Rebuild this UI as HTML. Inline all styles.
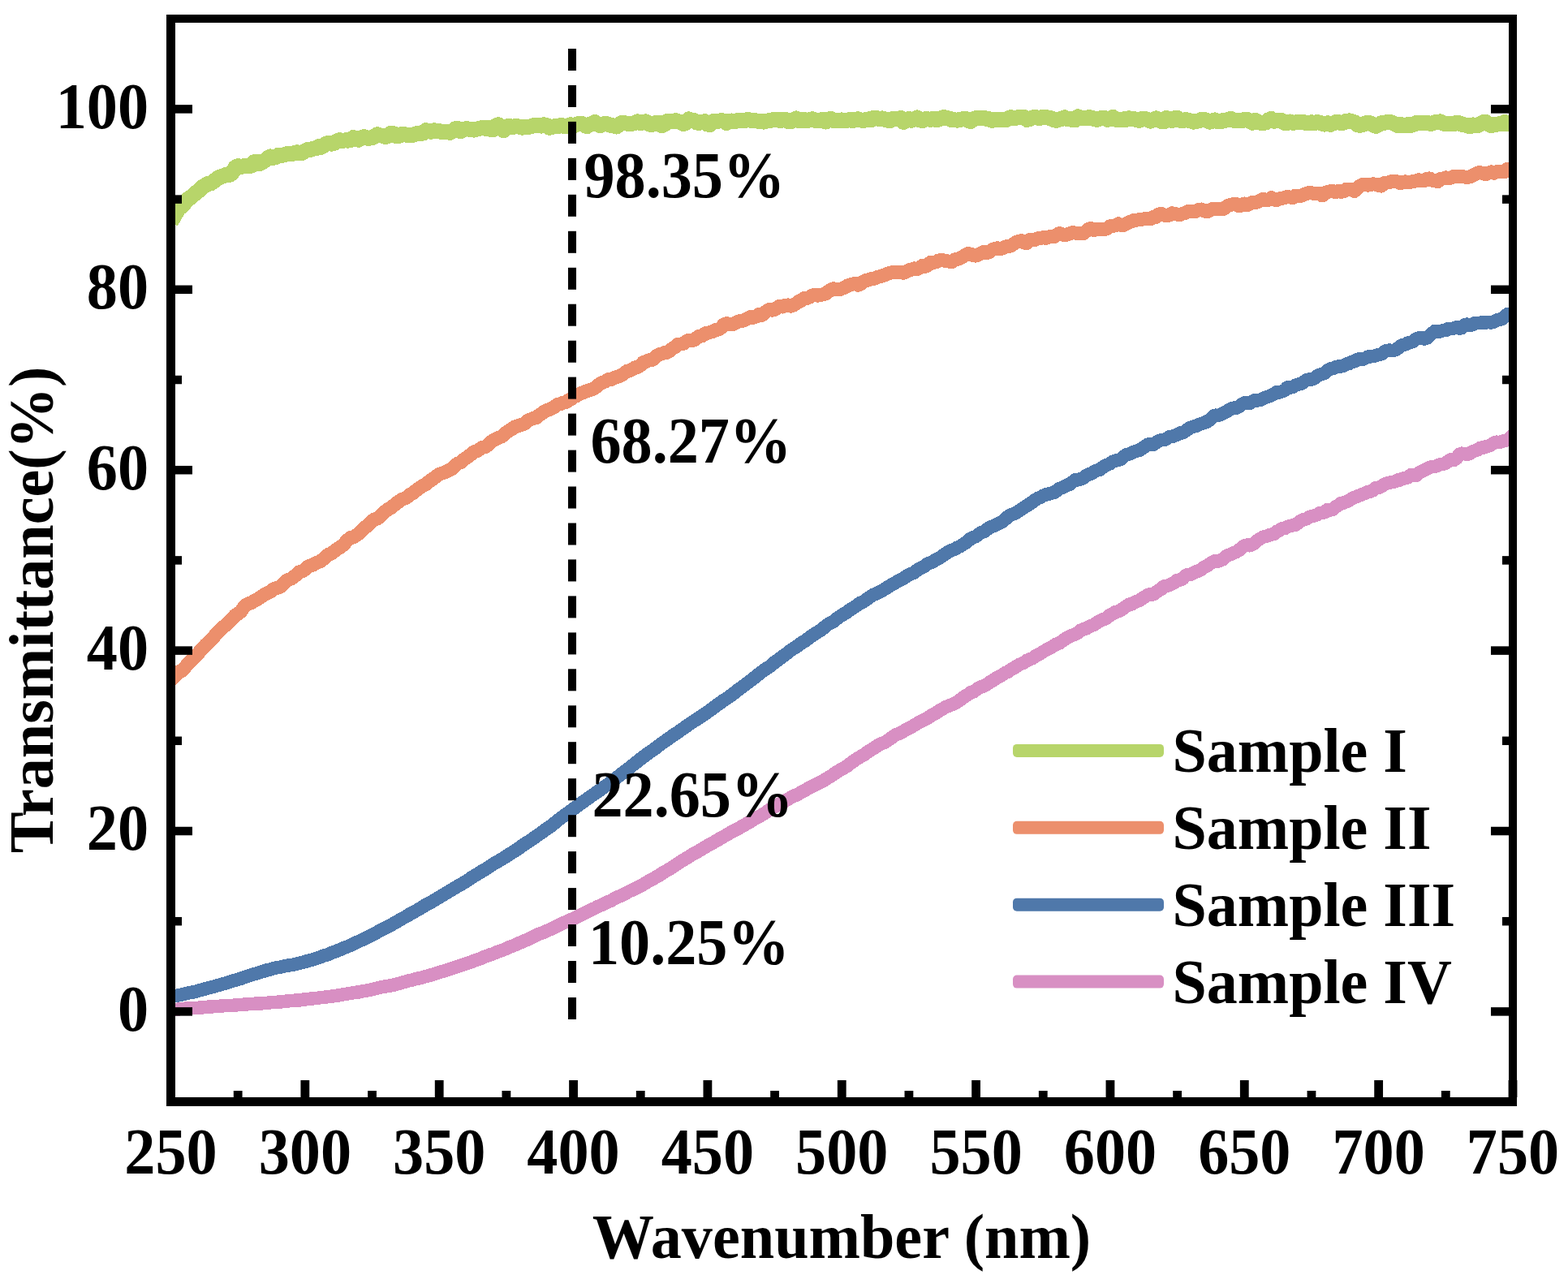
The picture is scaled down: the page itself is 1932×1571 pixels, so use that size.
<!DOCTYPE html>
<html><head><meta charset="utf-8"><style>
html,body{margin:0;padding:0;background:#fff;overflow:hidden;}
svg{display:block;}
text{font-family:"Liberation Serif","Times New Roman",serif;font-weight:bold;font-size:78px;fill:#000;}
</style></head><body>
<svg width="1932" height="1571" viewBox="0 0 1932 1571">
<rect width="1932" height="1571" fill="#fff"/>
<defs><clipPath id="pa"><rect x="210" y="23" width="1654" height="1335"/></clipPath></defs>
<g fill="none" stroke-width="16.5" stroke-linejoin="round" stroke-linecap="butt" clip-path="url(#pa)" shape-rendering="crispEdges">
<polyline stroke-width="19" points="210.5,272.9 213.8,268.2 217.1,262.2 220.4,256.2 223.7,254.4 227.0,250.7 230.3,246.2 233.6,244.1 237.0,241.5 240.3,238.5 243.6,235.8 246.9,233.5 250.2,230.0 253.5,228.0 256.8,226.4 260.1,225.7 263.4,223.5 266.7,220.8 270.0,218.4 273.3,217.4 276.6,216.2 279.9,215.0 283.3,215.3 286.6,212.3 289.9,206.2 293.2,204.7 296.5,205.5 299.8,204.8 303.1,204.3 306.4,204.2 309.7,204.2 313.0,199.7 316.3,199.4 319.6,201.7 322.9,200.0 326.2,198.0 329.6,195.1 332.9,193.0 336.2,194.4 339.5,193.8 342.8,191.4 346.1,191.1 349.4,191.1 352.7,189.8 356.0,189.9 359.3,189.8 362.6,188.8 365.9,187.7 369.2,188.4 372.5,188.3 375.8,186.2 379.2,184.2 382.5,184.4 385.8,183.2 389.1,182.8 392.4,180.7 395.7,181.3 399.0,179.4 402.3,176.8 405.6,176.9 408.9,177.1 412.2,176.2 415.5,173.7 418.8,172.7 422.1,173.5 425.5,172.8 428.8,173.1 432.1,172.4 435.4,169.6 438.7,171.1 442.0,172.2 445.3,169.8 448.6,168.7 451.9,170.1 455.2,170.1 458.5,169.9 461.8,167.6 465.1,165.8 468.4,166.8 471.8,167.4 475.1,168.5 478.4,167.1 481.7,164.2 485.0,164.7 488.3,167.6 491.6,167.4 494.9,165.4 498.2,165.6 501.5,166.3 504.8,166.5 508.1,166.5 511.4,165.4 514.7,164.2 518.1,164.2 521.4,164.1 524.7,160.7 528.0,161.9 531.3,162.2 534.6,160.8 537.9,161.9 541.2,161.7 544.5,162.7 547.8,162.1 551.1,162.8 554.4,163.3 557.7,161.5 561.0,158.7 564.3,158.5 567.7,161.8 571.0,160.1 574.3,158.6 577.6,159.1 580.9,159.4 584.2,160.1 587.5,159.2 590.8,158.3 594.1,157.6 597.4,158.1 600.7,157.2 604.0,159.2 607.3,159.6 610.6,155.0 614.0,153.9 617.3,158.4 620.6,160.9 623.9,156.4 627.2,155.1 630.5,156.9 633.8,155.8 637.1,155.5 640.4,156.3 643.7,157.1 647.0,156.4 650.3,156.6 653.6,155.9 656.9,154.9 660.3,154.9 663.6,154.6 666.9,155.1 670.2,153.8 673.5,154.5 676.8,157.3 680.1,156.3 683.4,155.7 686.7,156.0 690.0,154.9 693.3,154.9 696.6,155.8 699.9,155.1 703.2,153.8 706.5,155.1 709.9,153.7 713.2,152.3 716.5,152.4 719.8,154.0 723.1,155.7 726.4,153.2 729.7,152.5 733.0,150.7 736.3,153.0 739.6,154.7 742.9,153.1 746.2,152.3 749.5,153.4 752.8,154.4 756.2,155.1 759.5,156.0 762.8,153.5 766.1,151.6 769.4,151.8 772.7,152.1 776.0,152.2 779.3,152.1 782.6,151.4 785.9,149.9 789.2,151.8 792.5,150.6 795.8,149.9 799.1,152.4 802.5,153.8 805.8,152.7 809.1,151.2 812.4,151.2 815.7,154.7 819.0,153.1 822.3,149.3 825.6,149.2 828.9,149.8 832.2,148.6 835.5,149.9 838.8,150.6 842.1,152.5 845.4,151.1 848.8,147.0 852.1,148.3 855.4,148.5 858.7,151.1 862.0,151.2 865.3,150.5 868.6,149.7 871.9,153.2 875.2,153.3 878.5,149.6 881.8,149.6 885.1,149.1 888.4,148.9 891.7,148.9 895.0,151.4 898.4,149.1 901.7,149.0 905.0,149.9 908.3,148.8 911.6,148.7 914.9,148.6 918.2,148.5 921.5,147.5 924.8,148.2 928.1,148.8 931.4,148.9 934.7,149.2 938.0,149.3 941.3,150.1 944.7,149.1 948.0,148.6 951.3,147.9 954.6,147.5 957.9,147.3 961.2,148.7 964.5,147.3 967.8,147.6 971.1,149.4 974.4,149.6 977.7,147.6 981.0,146.0 984.3,148.7 987.6,148.8 991.0,147.3 994.3,148.9 997.6,147.6 1000.9,146.8 1004.2,148.2 1007.5,148.6 1010.8,148.1 1014.1,147.3 1017.4,150.1 1020.7,147.8 1024.0,146.3 1027.3,148.5 1030.6,148.4 1033.9,148.5 1037.2,148.0 1040.6,148.2 1043.9,148.3 1047.2,147.6 1050.5,148.6 1053.8,147.4 1057.1,146.7 1060.4,148.0 1063.7,148.6 1067.0,147.5 1070.3,146.9 1073.6,147.6 1076.9,145.2 1080.2,145.6 1083.5,146.7 1086.9,145.9 1090.2,147.1 1093.5,148.1 1096.8,148.5 1100.1,146.5 1103.4,146.4 1106.7,146.6 1110.0,145.6 1113.3,150.5 1116.6,147.6 1119.9,146.5 1123.2,148.3 1126.5,146.9 1129.8,145.0 1133.2,147.8 1136.5,148.6 1139.8,146.8 1143.1,146.8 1146.4,147.3 1149.7,146.2 1153.0,147.4 1156.3,147.2 1159.6,145.5 1162.9,144.5 1166.2,145.5 1169.5,146.0 1172.8,148.0 1176.1,147.9 1179.5,148.1 1182.8,147.5 1186.1,146.8 1189.4,146.1 1192.7,148.2 1196.0,149.5 1199.3,146.8 1202.6,145.6 1205.9,145.9 1209.2,145.5 1212.5,145.4 1215.8,146.3 1219.1,146.9 1222.4,148.4 1225.7,147.3 1229.1,147.4 1232.4,147.8 1235.7,147.1 1239.0,148.0 1242.3,145.8 1245.6,144.7 1248.9,145.4 1252.2,145.3 1255.5,144.2 1258.8,144.8 1262.1,144.5 1265.4,147.5 1268.7,146.5 1272.0,144.9 1275.4,144.5 1278.7,145.2 1282.0,145.2 1285.3,144.2 1288.6,144.3 1291.9,145.3 1295.2,145.8 1298.5,147.9 1301.8,148.3 1305.1,147.0 1308.4,146.3 1311.7,144.8 1315.0,146.5 1318.3,146.7 1321.7,147.7 1325.0,147.7 1328.3,143.9 1331.6,145.0 1334.9,145.1 1338.2,146.0 1341.5,144.5 1344.8,145.1 1348.1,146.7 1351.4,147.4 1354.7,146.4 1358.0,145.0 1361.3,145.7 1364.6,147.4 1367.9,146.1 1371.3,144.5 1374.6,147.1 1377.9,148.0 1381.2,147.9 1384.5,146.9 1387.8,147.2 1391.1,145.8 1394.4,146.8 1397.7,146.6 1401.0,148.0 1404.3,148.2 1407.6,146.3 1410.9,146.5 1414.2,147.5 1417.6,149.1 1420.9,148.0 1424.2,145.9 1427.5,147.6 1430.8,149.5 1434.1,149.9 1437.4,145.6 1440.7,146.4 1444.0,148.4 1447.3,145.6 1450.6,145.4 1453.9,148.2 1457.2,149.0 1460.5,147.5 1463.9,148.3 1467.2,149.0 1470.5,150.1 1473.8,149.1 1477.1,149.0 1480.4,147.1 1483.7,147.4 1487.0,148.5 1490.3,150.1 1493.6,149.3 1496.9,147.9 1500.2,149.4 1503.5,149.9 1506.8,148.7 1510.2,148.1 1513.5,147.5 1516.8,146.3 1520.1,148.4 1523.4,148.9 1526.7,148.2 1530.0,149.0 1533.3,147.2 1536.6,147.5 1539.9,149.3 1543.2,151.2 1546.5,148.3 1549.8,150.0 1553.1,151.3 1556.4,151.2 1559.8,151.1 1563.1,147.7 1566.4,146.4 1569.7,149.3 1573.0,148.4 1576.3,148.4 1579.6,148.7 1582.9,151.5 1586.2,151.6 1589.5,150.0 1592.8,151.3 1596.1,150.9 1599.4,150.3 1602.7,150.4 1606.1,150.6 1609.4,151.5 1612.7,151.2 1616.0,150.8 1619.3,151.7 1622.6,150.5 1625.9,151.2 1629.2,152.4 1632.5,153.1 1635.8,151.8 1639.1,153.4 1642.4,152.1 1645.7,150.6 1649.0,150.4 1652.4,151.8 1655.7,151.1 1659.0,149.2 1662.3,148.9 1665.6,149.7 1668.9,150.7 1672.2,153.4 1675.5,154.4 1678.8,153.6 1682.1,152.3 1685.4,151.1 1688.7,151.9 1692.0,153.9 1695.3,155.3 1698.6,153.8 1702.0,151.7 1705.3,151.4 1708.6,150.6 1711.9,150.2 1715.2,151.2 1718.5,152.8 1721.8,154.5 1725.1,153.3 1728.4,154.6 1731.7,155.0 1735.0,153.5 1738.3,154.5 1741.6,153.4 1744.9,151.6 1748.3,152.0 1751.6,151.8 1754.9,151.4 1758.2,151.5 1761.5,152.2 1764.8,152.1 1768.1,150.8 1771.4,150.7 1774.7,149.8 1778.0,151.9 1781.3,153.0 1784.6,152.6 1787.9,152.8 1791.2,152.7 1794.6,151.3 1797.9,151.7 1801.2,153.2 1804.5,154.0 1807.8,154.5 1811.1,155.9 1814.4,153.9 1817.7,154.4 1821.0,154.7 1824.3,152.5 1827.6,150.7 1830.9,150.6 1834.2,152.9 1837.5,154.6 1840.9,153.9 1844.2,153.1 1847.5,152.8 1850.8,152.7 1854.1,150.5 1857.4,152.7 1860.7,152.9 1864.0,152.7 1864.0,156.1" stroke="#B7D56A"/>
<polyline stroke-width="17" points="210.5,838.1 213.8,834.7 217.1,831.2 220.4,827.7 223.7,826.6 227.0,823.5 230.3,819.4 233.6,816.3 237.0,812.6 240.3,808.9 243.6,805.9 246.9,801.9 250.2,798.0 253.5,794.5 256.8,791.6 260.1,788.2 263.4,784.8 266.7,780.9 270.0,777.5 273.3,774.0 276.6,771.5 279.9,768.2 283.3,765.0 286.6,761.6 289.9,758.1 293.2,756.3 296.5,753.9 299.8,748.9 303.1,745.6 306.4,743.5 309.7,742.6 313.0,740.6 316.3,738.9 319.6,736.8 322.9,734.5 326.2,732.5 329.6,730.7 332.9,729.2 336.2,726.4 339.5,724.8 342.8,723.9 346.1,722.5 349.4,718.8 352.7,715.8 356.0,714.2 359.3,712.7 362.6,710.2 365.9,708.0 369.2,704.5 372.5,703.7 375.8,701.6 379.2,698.2 382.5,697.0 385.8,696.0 389.1,693.7 392.4,692.6 395.7,691.2 399.0,688.1 402.3,685.1 405.6,682.9 408.9,681.5 412.2,679.1 415.5,676.6 418.8,674.5 422.1,672.2 425.5,668.5 428.8,665.1 432.1,662.5 435.4,662.0 438.7,659.8 442.0,657.5 445.3,653.8 448.6,650.5 451.9,648.4 455.2,645.3 458.5,641.7 461.8,639.7 465.1,638.9 468.4,635.9 471.8,633.0 475.1,629.9 478.4,627.4 481.7,625.9 485.0,623.0 488.3,620.1 491.6,618.0 494.9,615.6 498.2,614.2 501.5,612.5 504.8,609.7 508.1,608.2 511.4,605.2 514.7,602.9 518.1,600.3 521.4,598.5 524.7,596.6 528.0,594.0 531.3,591.5 534.6,589.3 537.9,586.8 541.2,584.3 544.5,583.2 547.8,582.0 551.1,580.4 554.4,578.6 557.7,577.1 561.0,573.7 564.3,570.9 567.7,569.7 571.0,566.4 574.3,564.5 577.6,561.8 580.9,559.5 584.2,556.7 587.5,556.0 590.8,553.6 594.1,551.3 597.4,550.9 600.7,548.6 604.0,545.5 607.3,542.8 610.6,541.2 614.0,539.5 617.3,538.2 620.6,536.2 623.9,533.0 627.2,530.8 630.5,528.7 633.8,526.3 637.1,525.0 640.4,524.0 643.7,523.1 647.0,521.5 650.3,518.4 653.6,516.9 656.9,515.4 660.3,514.9 663.6,512.2 666.9,510.0 670.2,507.2 673.5,505.5 676.8,504.5 680.1,502.9 683.4,501.1 686.7,498.6 690.0,497.9 693.3,496.3 696.6,495.9 699.9,493.7 703.2,492.0 706.5,489.2 709.9,488.0 713.2,485.9 716.5,484.4 719.8,483.3 723.1,481.7 726.4,480.7 729.7,479.7 733.0,478.0 736.3,475.3 739.6,472.5 742.9,471.2 746.2,469.8 749.5,467.5 752.8,467.6 756.2,466.0 759.5,464.5 762.8,463.8 766.1,462.2 769.4,459.7 772.7,457.3 776.0,456.5 779.3,454.9 782.6,452.7 785.9,452.3 789.2,450.0 792.5,446.5 795.8,445.5 799.1,443.9 802.5,443.9 805.8,442.1 809.1,438.5 812.4,436.7 815.7,435.8 819.0,434.6 822.3,434.1 825.6,431.9 828.9,429.2 832.2,427.2 835.5,424.1 838.8,424.0 842.1,423.4 845.4,420.9 848.8,419.1 852.1,419.2 855.4,419.1 858.7,416.2 862.0,414.0 865.3,413.7 868.6,410.9 871.9,410.4 875.2,409.3 878.5,408.4 881.8,406.4 885.1,406.1 888.4,403.8 891.7,400.1 895.0,398.6 898.4,399.3 901.7,400.0 905.0,398.3 908.3,396.7 911.6,395.6 914.9,395.3 918.2,394.1 921.5,392.3 924.8,390.6 928.1,391.2 931.4,390.1 934.7,387.5 938.0,388.6 941.3,386.6 944.7,383.3 948.0,381.2 951.3,382.2 954.6,381.5 957.9,378.8 961.2,377.1 964.5,378.0 967.8,376.3 971.1,375.9 974.4,377.1 977.7,376.0 981.0,374.0 984.3,371.5 987.6,370.1 991.0,367.3 994.3,367.4 997.6,366.1 1000.9,364.1 1004.2,363.4 1007.5,364.2 1010.8,363.5 1014.1,362.7 1017.4,361.8 1020.7,359.2 1024.0,357.0 1027.3,355.8 1030.6,356.5 1033.9,356.9 1037.2,355.6 1040.6,354.5 1043.9,352.2 1047.2,351.2 1050.5,350.0 1053.8,349.5 1057.1,351.3 1060.4,349.9 1063.7,346.9 1067.0,345.6 1070.3,344.9 1073.6,343.5 1076.9,343.4 1080.2,341.7 1083.5,340.9 1086.9,339.8 1090.2,339.0 1093.5,337.3 1096.8,336.1 1100.1,335.8 1103.4,335.6 1106.7,335.4 1110.0,335.6 1113.3,336.2 1116.6,334.7 1119.9,332.8 1123.2,332.2 1126.5,330.9 1129.8,331.6 1133.2,329.9 1136.5,327.4 1139.8,328.3 1143.1,327.0 1146.4,323.3 1149.7,323.3 1153.0,323.0 1156.3,321.0 1159.6,320.7 1162.9,320.9 1166.2,321.7 1169.5,322.1 1172.8,322.7 1176.1,320.0 1179.5,319.5 1182.8,318.1 1186.1,316.7 1189.4,314.1 1192.7,312.4 1196.0,313.1 1199.3,314.8 1202.6,315.1 1205.9,313.5 1209.2,311.7 1212.5,310.2 1215.8,311.5 1219.1,310.7 1222.4,307.8 1225.7,306.5 1229.1,305.7 1232.4,306.9 1235.7,305.6 1239.0,304.0 1242.3,303.6 1245.6,302.7 1248.9,300.6 1252.2,298.5 1255.5,297.2 1258.8,296.7 1262.1,299.0 1265.4,299.6 1268.7,295.7 1272.0,295.7 1275.4,295.5 1278.7,293.8 1282.0,293.5 1285.3,292.7 1288.6,293.5 1291.9,292.0 1295.2,291.8 1298.5,291.8 1301.8,289.6 1305.1,287.6 1308.4,288.6 1311.7,289.7 1315.0,288.9 1318.3,287.9 1321.7,286.5 1325.0,287.1 1328.3,287.5 1331.6,287.1 1334.9,287.6 1338.2,284.9 1341.5,282.1 1344.8,281.6 1348.1,283.5 1351.4,282.8 1354.7,282.7 1358.0,282.2 1361.3,282.5 1364.6,281.1 1367.9,278.6 1371.3,278.3 1374.6,277.9 1377.9,275.8 1381.2,277.3 1384.5,277.4 1387.8,275.8 1391.1,273.9 1394.4,272.8 1397.7,271.1 1401.0,271.1 1404.3,270.5 1407.6,270.2 1410.9,269.5 1414.2,270.0 1417.6,269.9 1420.9,267.5 1424.2,267.5 1427.5,264.2 1430.8,263.5 1434.1,265.1 1437.4,265.8 1440.7,265.0 1444.0,262.7 1447.3,263.4 1450.6,264.2 1453.9,264.7 1457.2,263.2 1460.5,262.3 1463.9,260.5 1467.2,260.3 1470.5,260.3 1473.8,260.4 1477.1,258.4 1480.4,258.0 1483.7,259.8 1487.0,260.9 1490.3,259.1 1493.6,257.7 1496.9,257.0 1500.2,257.8 1503.5,257.7 1506.8,257.9 1510.2,255.6 1513.5,253.1 1516.8,252.4 1520.1,251.4 1523.4,251.5 1526.7,253.9 1530.0,253.0 1533.3,251.0 1536.6,252.9 1539.9,251.2 1543.2,249.1 1546.5,249.6 1549.8,248.8 1553.1,246.7 1556.4,245.3 1559.8,246.9 1563.1,246.4 1566.4,243.7 1569.7,246.0 1573.0,246.5 1576.3,244.9 1579.6,244.5 1582.9,243.5 1586.2,242.4 1589.5,243.0 1592.8,243.8 1596.1,241.1 1599.4,241.6 1602.7,241.4 1606.1,239.8 1609.4,238.9 1612.7,237.5 1616.0,237.7 1619.3,238.8 1622.6,238.6 1625.9,238.4 1629.2,241.0 1632.5,237.8 1635.8,236.5 1639.1,235.8 1642.4,235.7 1645.7,236.7 1649.0,235.4 1652.4,236.5 1655.7,235.6 1659.0,233.1 1662.3,233.7 1665.6,233.5 1668.9,235.4 1672.2,232.0 1675.5,229.0 1678.8,227.4 1682.1,227.6 1685.4,228.2 1688.7,227.4 1692.0,226.8 1695.3,227.2 1698.6,228.4 1702.0,229.1 1705.3,225.6 1708.6,225.2 1711.9,224.5 1715.2,223.2 1718.5,223.1 1721.8,224.1 1725.1,225.7 1728.4,224.6 1731.7,223.8 1735.0,224.7 1738.3,224.2 1741.6,223.3 1744.9,222.9 1748.3,221.8 1751.6,222.9 1754.9,222.5 1758.2,220.5 1761.5,219.9 1764.8,222.3 1768.1,222.6 1771.4,223.6 1774.7,220.6 1778.0,220.0 1781.3,218.9 1784.6,219.2 1787.9,219.2 1791.2,217.2 1794.6,217.2 1797.9,217.5 1801.2,217.5 1804.5,218.0 1807.8,218.5 1811.1,217.8 1814.4,216.3 1817.7,214.5 1821.0,212.9 1824.3,212.9 1827.6,213.7 1830.9,214.7 1834.2,213.1 1837.5,211.9 1840.9,213.2 1844.2,211.7 1847.5,211.1 1850.8,211.9 1854.1,211.5 1857.4,208.1 1860.7,208.8 1864.0,210.8 1864.0,210.8" stroke="#EC8F6C"/>
<polyline points="210.5,1228.6 213.8,1227.5 217.1,1226.9 220.4,1226.2 223.7,1225.5 227.0,1224.7 230.3,1223.8 233.6,1223.1 237.0,1222.6 240.3,1222.1 243.6,1221.1 246.9,1220.0 250.2,1219.2 253.5,1218.2 256.8,1217.3 260.1,1216.5 263.4,1215.7 266.7,1214.7 270.0,1213.9 273.3,1212.8 276.6,1211.8 279.9,1211.0 283.3,1209.9 286.6,1208.7 289.9,1207.7 293.2,1206.8 296.5,1205.9 299.8,1204.6 303.1,1203.5 306.4,1202.5 309.7,1201.2 313.0,1200.3 316.3,1199.4 319.6,1198.4 322.9,1197.3 326.2,1196.3 329.6,1195.1 332.9,1194.5 336.2,1193.5 339.5,1192.6 342.8,1192.1 346.1,1191.5 349.4,1190.7 352.7,1190.0 356.0,1189.4 359.3,1188.9 362.6,1188.4 365.9,1187.6 369.2,1186.8 372.5,1186.0 375.8,1185.0 379.2,1184.0 382.5,1183.2 385.8,1182.3 389.1,1181.1 392.4,1180.0 395.7,1178.9 399.0,1177.5 402.3,1176.7 405.6,1175.5 408.9,1174.0 412.2,1172.8 415.5,1171.5 418.8,1170.2 422.1,1168.6 425.5,1167.3 428.8,1166.1 432.1,1164.7 435.4,1162.8 438.7,1161.4 442.0,1160.0 445.3,1158.4 448.6,1156.9 451.9,1155.1 455.2,1153.5 458.5,1151.8 461.8,1150.3 465.1,1148.5 468.4,1146.6 471.8,1144.8 475.1,1143.4 478.4,1141.7 481.7,1139.8 485.0,1138.0 488.3,1136.1 491.6,1134.1 494.9,1132.1 498.2,1130.4 501.5,1128.7 504.8,1126.5 508.1,1124.7 511.4,1122.9 514.7,1121.1 518.1,1119.1 521.4,1117.0 524.7,1115.0 528.0,1113.3 531.3,1111.6 534.6,1109.6 537.9,1107.5 541.2,1105.5 544.5,1103.6 547.8,1101.6 551.1,1099.7 554.4,1097.6 557.7,1095.7 561.0,1093.7 564.3,1091.8 567.7,1089.9 571.0,1088.0 574.3,1086.0 577.6,1083.8 580.9,1081.4 584.2,1079.4 587.5,1077.5 590.8,1075.5 594.1,1073.2 597.4,1071.5 600.7,1069.5 604.0,1067.1 607.3,1065.0 610.6,1063.0 614.0,1061.1 617.3,1059.2 620.6,1057.2 623.9,1055.0 627.2,1052.8 630.5,1050.8 633.8,1048.8 637.1,1046.6 640.4,1044.4 643.7,1041.9 647.0,1039.7 650.3,1037.5 653.6,1035.6 656.9,1033.2 660.3,1030.8 663.6,1028.4 666.9,1026.2 670.2,1023.7 673.5,1021.3 676.8,1019.1 680.1,1016.9 683.4,1014.1 686.7,1011.4 690.0,1008.7 693.3,1006.3 696.6,1004.0 699.9,1001.6 703.2,999.1 706.5,996.7 709.9,994.3 713.2,991.8 716.5,989.3 719.8,987.1 723.1,984.8 726.4,982.4 729.7,980.1 733.0,977.8 736.3,975.5 739.6,973.3 742.9,970.8 746.2,968.4 749.5,966.1 752.8,963.7 756.2,961.2 759.5,958.3 762.8,955.9 766.1,953.3 769.4,950.8 772.7,948.3 776.0,945.8 779.3,943.1 782.6,940.5 785.9,938.0 789.2,935.2 792.5,932.7 795.8,930.3 799.1,927.8 802.5,925.6 805.8,923.2 809.1,920.8 812.4,918.2 815.7,915.7 819.0,913.5 822.3,911.2 825.6,908.8 828.9,906.5 832.2,904.3 835.5,902.1 838.8,899.7 842.1,897.5 845.4,895.1 848.8,892.7 852.1,890.5 855.4,888.2 858.7,886.2 862.0,884.1 865.3,881.7 868.6,879.6 871.9,877.4 875.2,874.9 878.5,872.5 881.8,870.1 885.1,867.6 888.4,865.5 891.7,862.9 895.0,860.8 898.4,858.5 901.7,856.2 905.0,853.6 908.3,850.9 911.6,848.6 914.9,846.1 918.2,843.6 921.5,841.2 924.8,838.7 928.1,836.1 931.4,833.5 934.7,830.9 938.0,828.2 941.3,825.9 944.7,823.5 948.0,821.5 951.3,819.0 954.6,815.9 957.9,813.7 961.2,811.3 964.5,808.7 967.8,806.5 971.1,803.9 974.4,801.2 977.7,799.1 981.0,797.0 984.3,794.7 987.6,792.2 991.0,790.3 994.3,788.1 997.6,785.3 1000.9,783.0 1004.2,780.9 1007.5,778.8 1010.8,777.0 1014.1,774.3 1017.4,771.4 1020.7,769.1 1024.0,767.3 1027.3,765.6 1030.6,762.7 1033.9,760.3 1037.2,758.1 1040.6,756.0 1043.9,754.2 1047.2,751.5 1050.5,749.4 1053.8,747.3 1057.1,745.0 1060.4,742.7 1063.7,741.4 1067.0,739.0 1070.3,736.7 1073.6,734.3 1076.9,732.5 1080.2,731.2 1083.5,729.6 1086.9,727.7 1090.2,725.8 1093.5,723.7 1096.8,721.6 1100.1,719.9 1103.4,717.9 1106.7,715.8 1110.0,714.3 1113.3,712.6 1116.6,710.3 1119.9,708.2 1123.2,706.9 1126.5,705.4 1129.8,702.7 1133.2,700.6 1136.5,698.9 1139.8,697.2 1143.1,694.4 1146.4,693.3 1149.7,691.9 1153.0,689.5 1156.3,688.3 1159.6,686.1 1162.9,683.7 1166.2,681.7 1169.5,679.2 1172.8,677.9 1176.1,677.0 1179.5,674.6 1182.8,673.3 1186.1,671.0 1189.4,669.2 1192.7,666.6 1196.0,663.5 1199.3,662.2 1202.6,660.8 1205.9,658.2 1209.2,656.2 1212.5,655.0 1215.8,652.6 1219.1,650.0 1222.4,648.7 1225.7,647.6 1229.1,645.4 1232.4,644.1 1235.7,642.4 1239.0,639.4 1242.3,636.3 1245.6,634.2 1248.9,633.1 1252.2,631.8 1255.5,629.6 1258.8,627.4 1262.1,625.0 1265.4,623.1 1268.7,620.9 1272.0,618.6 1275.4,616.1 1278.7,614.1 1282.0,612.8 1285.3,610.8 1288.6,609.4 1291.9,608.7 1295.2,607.6 1298.5,607.0 1301.8,604.9 1305.1,602.2 1308.4,601.2 1311.7,599.5 1315.0,597.6 1318.3,596.6 1321.7,593.7 1325.0,591.3 1328.3,591.3 1331.6,590.1 1334.9,589.1 1338.2,586.2 1341.5,584.2 1344.8,583.7 1348.1,581.0 1351.4,579.8 1354.7,578.9 1358.0,576.4 1361.3,574.2 1364.6,572.7 1367.9,571.1 1371.3,568.6 1374.6,567.6 1377.9,566.7 1381.2,565.8 1384.5,562.5 1387.8,560.2 1391.1,559.6 1394.4,557.9 1397.7,556.7 1401.0,555.6 1404.3,554.6 1407.6,552.2 1410.9,550.1 1414.2,547.7 1417.6,547.5 1420.9,548.0 1424.2,545.5 1427.5,543.4 1430.8,542.1 1434.1,542.1 1437.4,540.5 1440.7,538.4 1444.0,538.0 1447.3,536.9 1450.6,535.4 1453.9,533.5 1457.2,533.3 1460.5,531.2 1463.9,528.7 1467.2,526.7 1470.5,525.7 1473.8,524.8 1477.1,523.0 1480.4,522.2 1483.7,520.8 1487.0,519.7 1490.3,517.6 1493.6,514.6 1496.9,511.7 1500.2,511.8 1503.5,511.3 1506.8,509.5 1510.2,507.9 1513.5,505.6 1516.8,503.8 1520.1,502.6 1523.4,502.9 1526.7,500.9 1530.0,498.4 1533.3,496.4 1536.6,496.5 1539.9,496.9 1543.2,494.8 1546.5,492.9 1549.8,493.4 1553.1,492.7 1556.4,491.0 1559.8,489.6 1563.1,488.6 1566.4,487.0 1569.7,485.3 1573.0,483.3 1576.3,483.5 1579.6,482.4 1582.9,481.1 1586.2,477.3 1589.5,477.5 1592.8,477.0 1596.1,474.7 1599.4,473.8 1602.7,472.9 1606.1,471.0 1609.4,468.5 1612.7,467.5 1616.0,467.5 1619.3,466.3 1622.6,463.6 1625.9,461.8 1629.2,460.8 1632.5,459.6 1635.8,456.2 1639.1,454.4 1642.4,454.2 1645.7,452.3 1649.0,451.5 1652.4,451.5 1655.7,450.5 1659.0,448.5 1662.3,448.0 1665.6,445.7 1668.9,445.5 1672.2,443.0 1675.5,442.3 1678.8,443.1 1682.1,441.5 1685.4,439.7 1688.7,439.3 1692.0,439.2 1695.3,437.9 1698.6,437.0 1702.0,436.4 1705.3,433.7 1708.6,432.1 1711.9,431.5 1715.2,432.1 1718.5,431.3 1721.8,429.7 1725.1,426.8 1728.4,425.1 1731.7,424.4 1735.0,422.4 1738.3,421.9 1741.6,420.4 1744.9,417.5 1748.3,416.4 1751.6,416.2 1754.9,417.6 1758.2,416.5 1761.5,413.3 1764.8,410.5 1768.1,407.8 1771.4,408.9 1774.7,408.4 1778.0,407.0 1781.3,407.1 1784.6,404.8 1787.9,404.9 1791.2,404.6 1794.6,403.2 1797.9,404.6 1801.2,404.1 1804.5,400.5 1807.8,399.6 1811.1,401.1 1814.4,400.0 1817.7,397.9 1821.0,397.9 1824.3,397.7 1827.6,397.4 1830.9,397.5 1834.2,397.1 1837.5,397.5 1840.9,396.4 1844.2,394.5 1847.5,393.8 1850.8,392.8 1854.1,390.2 1857.4,387.2 1860.7,387.3 1864.0,386.4 1864.0,387.3" stroke="#4F78AA"/>
<polyline points="210.5,1244.1 213.8,1244.0 217.1,1243.9 220.4,1243.5 223.7,1242.9 227.0,1242.8 230.3,1242.5 233.6,1242.3 237.0,1241.9 240.3,1241.9 243.6,1241.8 246.9,1241.6 250.2,1241.3 253.5,1241.0 256.8,1240.6 260.1,1240.6 263.4,1240.1 266.7,1240.1 270.0,1239.8 273.3,1239.4 276.6,1239.2 279.9,1239.0 283.3,1238.9 286.6,1238.8 289.9,1238.6 293.2,1238.1 296.5,1237.9 299.8,1237.7 303.1,1237.5 306.4,1237.1 309.7,1237.0 313.0,1236.8 316.3,1236.5 319.6,1236.5 322.9,1236.3 326.2,1236.1 329.6,1235.8 332.9,1235.3 336.2,1235.0 339.5,1234.8 342.8,1234.7 346.1,1234.4 349.4,1233.9 352.7,1233.6 356.0,1233.3 359.3,1233.0 362.6,1232.7 365.9,1232.5 369.2,1232.4 372.5,1231.8 375.8,1231.4 379.2,1231.1 382.5,1230.6 385.8,1230.3 389.1,1230.0 392.4,1229.6 395.7,1229.1 399.0,1228.9 402.3,1228.4 405.6,1227.9 408.9,1227.6 412.2,1227.2 415.5,1226.7 418.8,1226.1 422.1,1225.5 425.5,1225.0 428.8,1224.4 432.1,1224.0 435.4,1223.3 438.7,1222.7 442.0,1222.4 445.3,1221.7 448.6,1220.9 451.9,1220.6 455.2,1219.8 458.5,1219.2 461.8,1218.4 465.1,1217.6 468.4,1216.7 471.8,1216.0 475.1,1215.4 478.4,1214.9 481.7,1214.3 485.0,1213.7 488.3,1212.6 491.6,1211.8 494.9,1210.9 498.2,1210.0 501.5,1209.0 504.8,1208.1 508.1,1207.4 511.4,1206.5 514.7,1205.7 518.1,1204.9 521.4,1204.1 524.7,1203.1 528.0,1202.2 531.3,1201.3 534.6,1200.3 537.9,1199.2 541.2,1198.1 544.5,1197.2 547.8,1196.3 551.1,1195.2 554.4,1194.1 557.7,1193.0 561.0,1191.8 564.3,1190.7 567.7,1189.5 571.0,1188.6 574.3,1187.4 577.6,1186.2 580.9,1185.1 584.2,1183.8 587.5,1182.6 590.8,1181.5 594.1,1180.2 597.4,1178.8 600.7,1177.6 604.0,1176.3 607.3,1175.3 610.6,1173.9 614.0,1172.6 617.3,1171.5 620.6,1170.2 623.9,1168.7 627.2,1167.3 630.5,1166.0 633.8,1164.7 637.1,1163.1 640.4,1161.7 643.7,1160.4 647.0,1158.9 650.3,1157.5 653.6,1155.9 656.9,1154.3 660.3,1152.7 663.6,1151.1 666.9,1149.9 670.2,1148.6 673.5,1147.0 676.8,1145.7 680.1,1144.2 683.4,1142.5 686.7,1141.0 690.0,1139.4 693.3,1137.7 696.6,1136.3 699.9,1134.8 703.2,1133.3 706.5,1131.8 709.9,1130.1 713.2,1128.6 716.5,1126.9 719.8,1125.3 723.1,1123.8 726.4,1122.2 729.7,1120.6 733.0,1119.0 736.3,1117.3 739.6,1115.7 742.9,1114.2 746.2,1112.8 749.5,1111.2 752.8,1109.7 756.2,1107.8 759.5,1105.9 762.8,1104.5 766.1,1103.2 769.4,1101.4 772.7,1099.7 776.0,1098.0 779.3,1096.6 782.6,1095.0 785.9,1093.2 789.2,1091.5 792.5,1089.8 795.8,1087.9 799.1,1085.9 802.5,1084.2 805.8,1082.3 809.1,1080.3 812.4,1078.5 815.7,1076.3 819.0,1074.0 822.3,1072.4 825.6,1070.4 828.9,1068.2 832.2,1066.0 835.5,1063.9 838.8,1061.7 842.1,1059.8 845.4,1057.7 848.8,1055.6 852.1,1053.5 855.4,1051.6 858.7,1049.9 862.0,1048.0 865.3,1046.0 868.6,1043.9 871.9,1041.9 875.2,1040.3 878.5,1038.5 881.8,1036.3 885.1,1034.6 888.4,1032.4 891.7,1030.7 895.0,1029.0 898.4,1026.9 901.7,1025.0 905.0,1023.4 908.3,1021.7 911.6,1019.7 914.9,1017.9 918.2,1015.9 921.5,1014.2 924.8,1012.1 928.1,1010.0 931.4,1008.1 934.7,1006.2 938.0,1004.6 941.3,1002.6 944.7,1000.3 948.0,998.0 951.3,995.7 954.6,993.9 957.9,992.2 961.2,990.3 964.5,988.4 967.8,986.6 971.1,984.7 974.4,982.5 977.7,980.8 981.0,979.7 984.3,977.9 987.6,976.0 991.0,974.5 994.3,972.4 997.6,970.5 1000.9,968.6 1004.2,967.4 1007.5,965.7 1010.8,964.1 1014.1,962.2 1017.4,960.0 1020.7,958.1 1024.0,956.3 1027.3,953.8 1030.6,951.6 1033.9,949.6 1037.2,947.7 1040.6,945.7 1043.9,943.7 1047.2,941.0 1050.5,938.8 1053.8,936.3 1057.1,934.3 1060.4,932.3 1063.7,930.6 1067.0,928.1 1070.3,925.6 1073.6,923.8 1076.9,921.8 1080.2,919.5 1083.5,917.4 1086.9,915.7 1090.2,914.8 1093.5,912.5 1096.8,910.3 1100.1,907.7 1103.4,905.7 1106.7,904.2 1110.0,902.6 1113.3,900.9 1116.6,898.7 1119.9,897.4 1123.2,895.9 1126.5,893.4 1129.8,891.7 1133.2,889.5 1136.5,888.0 1139.8,886.5 1143.1,884.9 1146.4,882.3 1149.7,880.6 1153.0,878.9 1156.3,876.4 1159.6,874.5 1162.9,872.5 1166.2,870.8 1169.5,869.6 1172.8,868.2 1176.1,866.7 1179.5,864.8 1182.8,862.6 1186.1,859.9 1189.4,857.8 1192.7,855.7 1196.0,853.3 1199.3,852.6 1202.6,850.1 1205.9,847.7 1209.2,846.3 1212.5,845.2 1215.8,843.5 1219.1,840.9 1222.4,839.1 1225.7,836.9 1229.1,834.6 1232.4,833.2 1235.7,831.1 1239.0,828.8 1242.3,827.6 1245.6,825.0 1248.9,823.4 1252.2,821.1 1255.5,819.2 1258.8,817.6 1262.1,816.2 1265.4,813.7 1268.7,812.4 1272.0,811.3 1275.4,808.6 1278.7,806.8 1282.0,805.2 1285.3,802.9 1288.6,801.2 1291.9,799.2 1295.2,797.8 1298.5,795.6 1301.8,793.5 1305.1,792.6 1308.4,790.3 1311.7,787.8 1315.0,785.7 1318.3,784.1 1321.7,782.6 1325.0,781.3 1328.3,779.6 1331.6,776.6 1334.9,775.3 1338.2,774.5 1341.5,772.4 1344.8,770.9 1348.1,769.7 1351.4,767.3 1354.7,765.3 1358.0,763.6 1361.3,762.8 1364.6,760.6 1367.9,757.7 1371.3,756.1 1374.6,754.0 1377.9,753.4 1381.2,751.7 1384.5,749.3 1387.8,746.9 1391.1,744.7 1394.4,744.4 1397.7,742.6 1401.0,740.9 1404.3,739.6 1407.6,737.2 1410.9,735.2 1414.2,733.3 1417.6,732.1 1420.9,732.5 1424.2,729.8 1427.5,727.7 1430.8,725.9 1434.1,722.5 1437.4,722.1 1440.7,721.0 1444.0,719.0 1447.3,717.6 1450.6,714.9 1453.9,714.5 1457.2,713.2 1460.5,709.5 1463.9,708.0 1467.2,707.7 1470.5,706.3 1473.8,704.4 1477.1,703.4 1480.4,701.5 1483.7,698.8 1487.0,697.4 1490.3,694.9 1493.6,692.9 1496.9,691.2 1500.2,691.7 1503.5,690.5 1506.8,689.3 1510.2,685.6 1513.5,684.1 1516.8,683.1 1520.1,681.4 1523.4,679.9 1526.7,677.9 1530.0,674.8 1533.3,672.3 1536.6,671.5 1539.9,672.3 1543.2,670.7 1546.5,668.7 1549.8,665.6 1553.1,663.5 1556.4,661.7 1559.8,661.0 1563.1,659.6 1566.4,658.8 1569.7,657.9 1573.0,654.9 1576.3,653.5 1579.6,651.4 1582.9,651.2 1586.2,649.3 1589.5,647.9 1592.8,647.3 1596.1,647.0 1599.4,644.3 1602.7,641.7 1606.1,640.0 1609.4,639.4 1612.7,637.5 1616.0,636.1 1619.3,635.5 1622.6,634.4 1625.9,632.3 1629.2,632.1 1632.5,631.2 1635.8,627.8 1639.1,628.4 1642.4,627.8 1645.7,624.3 1649.0,622.5 1652.4,620.0 1655.7,619.5 1659.0,618.2 1662.3,616.8 1665.6,614.4 1668.9,612.8 1672.2,611.8 1675.5,610.3 1678.8,609.0 1682.1,607.8 1685.4,606.0 1688.7,605.5 1692.0,604.2 1695.3,601.0 1698.6,601.0 1702.0,599.4 1705.3,597.2 1708.6,595.7 1711.9,594.8 1715.2,594.1 1718.5,593.5 1721.8,591.6 1725.1,591.5 1728.4,589.5 1731.7,589.3 1735.0,588.1 1738.3,585.2 1741.6,586.0 1744.9,585.9 1748.3,582.4 1751.6,581.0 1754.9,579.3 1758.2,577.8 1761.5,576.2 1764.8,574.8 1768.1,574.8 1771.4,573.8 1774.7,572.1 1778.0,572.0 1781.3,570.7 1784.6,568.2 1787.9,566.2 1791.2,567.1 1794.6,564.8 1797.9,559.8 1801.2,558.7 1804.5,559.1 1807.8,559.8 1811.1,558.9 1814.4,556.3 1817.7,555.3 1821.0,554.2 1824.3,551.7 1827.6,551.6 1830.9,550.4 1834.2,549.5 1837.5,547.9 1840.9,545.6 1844.2,544.7 1847.5,544.9 1850.8,544.0 1854.1,542.8 1857.4,542.2 1860.7,539.2 1864.0,536.3 1864.0,537.1" stroke="#D88FC3"/>
</g>
<g fill="#000">
<rect x="700" y="60.0" width="10" height="27"/>
<rect x="700" y="105.0" width="10" height="27"/>
<rect x="700" y="149.9" width="10" height="27"/>
<rect x="700" y="194.9" width="10" height="27"/>
<rect x="700" y="239.8" width="10" height="27"/>
<rect x="700" y="284.8" width="10" height="27"/>
<rect x="700" y="329.8" width="10" height="27"/>
<rect x="700" y="374.7" width="10" height="27"/>
<rect x="700" y="419.7" width="10" height="27"/>
<rect x="700" y="464.6" width="10" height="27"/>
<rect x="700" y="509.6" width="10" height="27"/>
<rect x="700" y="554.6" width="10" height="27"/>
<rect x="700" y="599.5" width="10" height="27"/>
<rect x="700" y="644.5" width="10" height="27"/>
<rect x="700" y="689.4" width="10" height="27"/>
<rect x="700" y="734.4" width="10" height="27"/>
<rect x="700" y="779.4" width="10" height="27"/>
<rect x="700" y="824.3" width="10" height="27"/>
<rect x="700" y="869.3" width="10" height="27"/>
<rect x="700" y="914.2" width="10" height="27"/>
<rect x="700" y="959.2" width="10" height="27"/>
<rect x="700" y="1004.2" width="10" height="27"/>
<rect x="700" y="1049.1" width="10" height="27"/>
<rect x="700" y="1094.1" width="10" height="27"/>
<rect x="700" y="1139.0" width="10" height="27"/>
<rect x="700" y="1184.0" width="10" height="27"/>
<rect x="700" y="1229.0" width="10" height="27"/>
</g>
<g>
<text transform="translate(719.5,242.6) scale(0.977,1.04)">98.35%</text>
<text transform="translate(727.5,569.6) scale(0.977,1.04)">68.27%</text>
<text transform="translate(729.5,1005.6) scale(0.977,1.04)">22.65%</text>
<text transform="translate(725,1187.6) scale(0.977,1.04)">10.25%</text>
</g>
<g fill="#000">
<rect x="205" y="18" width="11" height="1345"/>
<rect x="1859" y="18" width="10" height="1345"/>
<rect x="205" y="18" width="1664" height="10"/>
<rect x="205" y="1352" width="1664" height="11"/>
<rect x="205.10" y="1331" width="10.8" height="21"/>
<rect x="370.45" y="1331" width="10.8" height="21"/>
<rect x="535.80" y="1331" width="10.8" height="21"/>
<rect x="701.15" y="1331" width="10.8" height="21"/>
<rect x="866.50" y="1331" width="10.8" height="21"/>
<rect x="1031.85" y="1331" width="10.8" height="21"/>
<rect x="1197.20" y="1331" width="10.8" height="21"/>
<rect x="1362.55" y="1331" width="10.8" height="21"/>
<rect x="1527.90" y="1331" width="10.8" height="21"/>
<rect x="1693.25" y="1331" width="10.8" height="21"/>
<rect x="1858.60" y="1331" width="10.8" height="21"/>
<rect x="287.78" y="1344" width="10.8" height="8"/>
<rect x="453.12" y="1344" width="10.8" height="8"/>
<rect x="618.48" y="1344" width="10.8" height="8"/>
<rect x="783.83" y="1344" width="10.8" height="8"/>
<rect x="949.17" y="1344" width="10.8" height="8"/>
<rect x="1114.52" y="1344" width="10.8" height="8"/>
<rect x="1279.87" y="1344" width="10.8" height="8"/>
<rect x="1445.22" y="1344" width="10.8" height="8"/>
<rect x="1610.57" y="1344" width="10.8" height="8"/>
<rect x="1775.92" y="1344" width="10.8" height="8"/>
<rect x="216" y="1241.15" width="21" height="10.5"/>
<rect x="1837" y="1241.15" width="22" height="10.5"/>
<rect x="216" y="1018.75" width="21" height="10.5"/>
<rect x="1837" y="1018.75" width="22" height="10.5"/>
<rect x="216" y="796.35" width="21" height="10.5"/>
<rect x="1837" y="796.35" width="22" height="10.5"/>
<rect x="216" y="573.95" width="21" height="10.5"/>
<rect x="1837" y="573.95" width="22" height="10.5"/>
<rect x="216" y="351.55" width="21" height="10.5"/>
<rect x="1837" y="351.55" width="22" height="10.5"/>
<rect x="216" y="129.15" width="21" height="10.5"/>
<rect x="1837" y="129.15" width="22" height="10.5"/>
<rect x="216" y="1129.95" width="8" height="10.5"/>
<rect x="1851" y="1129.95" width="8" height="10.5"/>
<rect x="216" y="907.55" width="8" height="10.5"/>
<rect x="1851" y="907.55" width="8" height="10.5"/>
<rect x="216" y="685.15" width="8" height="10.5"/>
<rect x="1851" y="685.15" width="8" height="10.5"/>
<rect x="216" y="462.75" width="8" height="10.5"/>
<rect x="1851" y="462.75" width="8" height="10.5"/>
<rect x="216" y="240.35" width="8" height="10.5"/>
<rect x="1851" y="240.35" width="8" height="10.5"/>
</g>
<g>
<text transform="translate(210.5,1445.7) scale(0.977,1.04)" text-anchor="middle">250</text>
<text transform="translate(375.9,1445.7) scale(0.977,1.04)" text-anchor="middle">300</text>
<text transform="translate(541.2,1445.7) scale(0.977,1.04)" text-anchor="middle">350</text>
<text transform="translate(706.5,1445.7) scale(0.977,1.04)" text-anchor="middle">400</text>
<text transform="translate(871.9,1445.7) scale(0.977,1.04)" text-anchor="middle">450</text>
<text transform="translate(1037.2,1445.7) scale(0.977,1.04)" text-anchor="middle">500</text>
<text transform="translate(1202.6,1445.7) scale(0.977,1.04)" text-anchor="middle">550</text>
<text transform="translate(1368.0,1445.7) scale(0.977,1.04)" text-anchor="middle">600</text>
<text transform="translate(1533.3,1445.7) scale(0.977,1.04)" text-anchor="middle">650</text>
<text transform="translate(1698.6,1445.7) scale(0.977,1.04)" text-anchor="middle">700</text>
<text transform="translate(1864.0,1445.7) scale(0.977,1.04)" text-anchor="middle">750</text>
<text transform="translate(183,1269.8) scale(0.977,1.04)" text-anchor="end">0</text>
<text transform="translate(183,1047.4) scale(0.977,1.04)" text-anchor="end">20</text>
<text transform="translate(183,825.0) scale(0.977,1.04)" text-anchor="end">40</text>
<text transform="translate(183,602.6) scale(0.977,1.04)" text-anchor="end">60</text>
<text transform="translate(183,380.2) scale(0.977,1.04)" text-anchor="end">80</text>
<text transform="translate(183,157.8) scale(0.977,1.04)" text-anchor="end">100</text>
</g>
<rect x="1248" y="916.9" width="186" height="16" rx="4.8" fill="#B7D56A"/>
<text transform="translate(1444.5,951.1) scale(0.975,1)">Sample I</text>
<rect x="1248" y="1011.8" width="186" height="16" rx="4.8" fill="#EC8F6C"/>
<text transform="translate(1444.5,1046.0) scale(0.975,1)">Sample II</text>
<rect x="1248" y="1106.7" width="186" height="16" rx="4.8" fill="#4F78AA"/>
<text transform="translate(1444.5,1140.9) scale(0.975,1)">Sample III</text>
<rect x="1248" y="1201.6" width="186" height="16" rx="4.8" fill="#D88FC3"/>
<text transform="translate(1444.5,1235.8) scale(0.975,1)">Sample IV</text>
<text transform="translate(1037,1549.6) scale(0.977,1)" text-anchor="middle">Wavenumber (nm)</text>
<text transform="translate(65,751.5) rotate(-90) scale(0.977,1)" text-anchor="middle">Transmittance(%)</text>
</svg>
</body></html>
